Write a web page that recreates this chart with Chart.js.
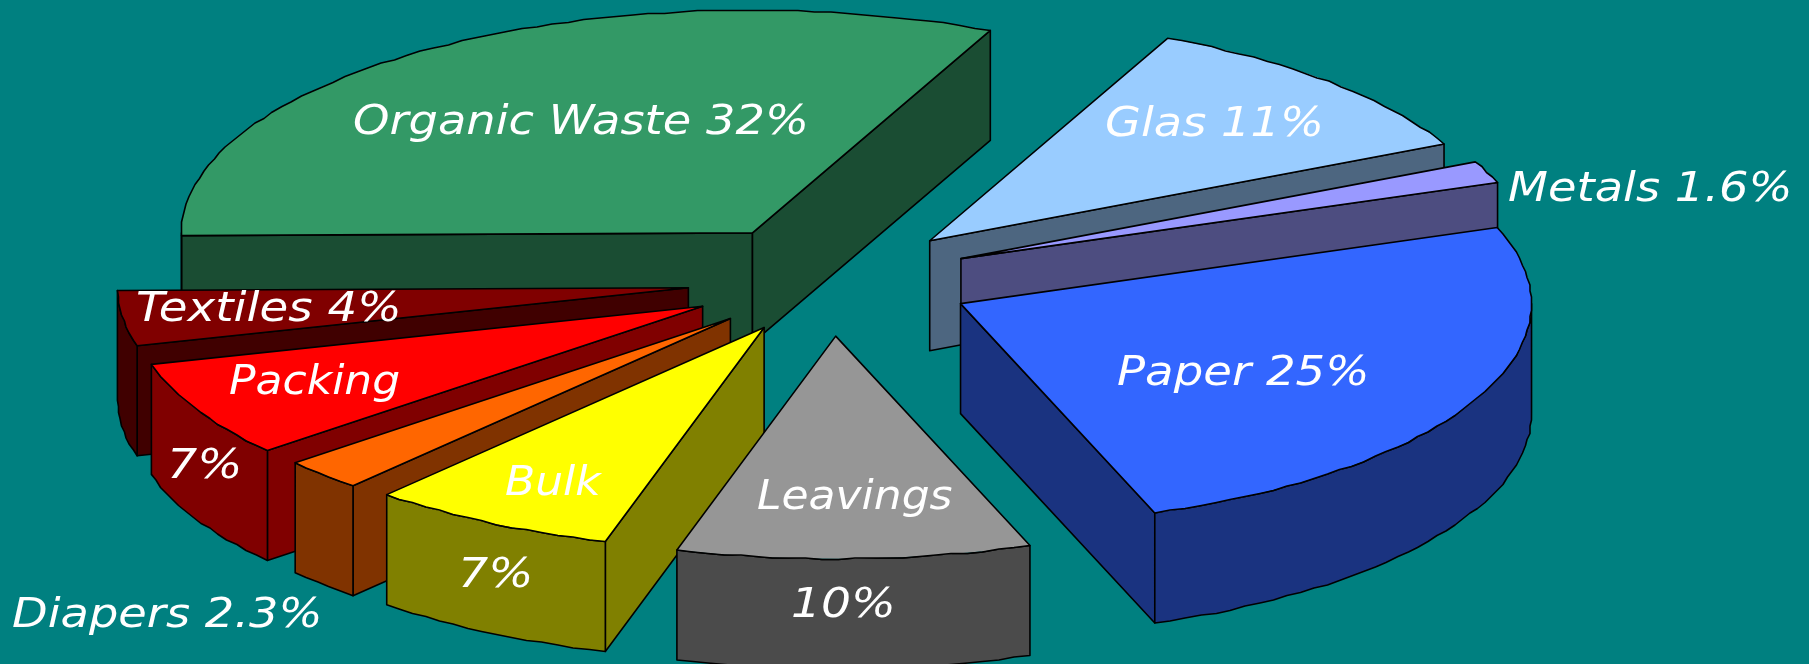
<!DOCTYPE html>
<html>
<head>
<meta charset="utf-8">
<title>Household waste composition</title>
<script src="https://cdn.jsdelivr.net/npm/chart.js@4"></script>
<style>
  html, body { margin: 0; padding: 0; background: #008080; overflow: hidden; }
  canvas { display: block; }
</style>
</head>
<body>
<canvas id="chart" width="1809" height="664"></canvas>
<script>
const categories = ['Organic Waste', 'Glas', 'Metals', 'Paper', 'Leavings', 'Bulk', 'Diapers', 'Packing', 'Textiles'];
const shares = [32, 11, 1.6, 25, 10, 7, 2.3, 7, 4];
const topColors = ['#339966', '#99ccff', '#9999ff', '#3366ff', '#969696', '#ffff00', '#ff6600', '#ff0000', '#800000'];
const sideColors = ['#1a4d33', '#4d6680', '#4d4d80', '#1a3380', '#4b4b4b', '#808000', '#803300', '#800000', '#400000'];
const explodeBy = [144, 141, 141, 143, 144, 139, 141, 145, 144];

const TILT = 0.39;
const DEPTH = 110;
const OUTLINE = '#000';
const RIM_GRID = 1.5;

// text sits where it reads best, so the spots are set by hand: text, x, baseline, width stretch
const captions = [
  ['Organic Waste 32%', 353, 134, 1.13],
  ['Glas 11%', 1105, 136, 1.13],
  ['Metals 1.6%', 1508, 201, 1.13],
  ['Paper 25%', 1117, 385, 1.137],
  ['Leavings', 757, 509, 1.073],
  ['10%', 791, 617, 1.15],
  ['Bulk', 505, 495, 1.073],
  ['7%', 458, 587, 1.16],
  ['Diapers 2.3%', 12, 627, 1.13],
  ['Packing', 229, 394, 1.073],
  ['7%', 167, 478, 1.16],
  ['Textiles 4%', 136, 321, 1.14],
];

// polar position on the flattened pie, moved out along the slice's middle
const projector = (arc, explode) => {
  const { x, y, startAngle, endAngle } = arc.getProps(['x', 'y', 'startAngle', 'endAngle'], true);
  const mid = (startAngle + endAngle) / 2;
  const ox = x + Math.cos(mid) * explode;
  const oy = y + Math.sin(mid) * explode * TILT;
  return (angle, r, drop) => [ox + Math.cos(angle) * r, oy + Math.sin(angle) * r * TILT + drop];
};

const polygon = (ctx, points, fill) => {
  ctx.beginPath();
  points.forEach(([px, py], i) => (i ? ctx.lineTo(px, py) : ctx.moveTo(px, py)));
  ctx.closePath();
  if (fill) {
    ctx.fillStyle = fill;
    ctx.fill();
  }
  ctx.stroke();
};

// rim is a coarse polyline snapped to a small grid, ends kept exact
const rimPoints = (at, from, to, r, drop) => {
  const steps = Math.max(2, Math.ceil((to - from) * 34));
  const pts = [];
  for (let i = 0; i <= steps; i++) {
    const [px, py] = at(from + ((to - from) * i) / steps, r, drop);
    const edge = i === 0 || i === steps;
    pts.push(edge ? [px, py] : [Math.round(px / RIM_GRID) * RIM_GRID, Math.round(py / RIM_GRID) * RIM_GRID]);
  }
  return pts;
};

const pie3d = {
  id: 'pie3d',
  beforeDatasetDraw(chart, args) {
    const { ctx } = chart;
    const arcs = args.meta.data.map((arc, index) => ({ arc, index, at: projector(arc, explodeBy[index]) }));
    arcs.sort((p, q) => p.at(0, 0, 0)[1] - q.at(0, 0, 0)[1]);

    ctx.save();
    ctx.strokeStyle = OUTLINE;
    ctx.lineWidth = 1.6;
    ctx.lineJoin = 'round';

    arcs.forEach(({ arc, index, at }) => {
      const { startAngle: a, endAngle: b, outerRadius: r, x, y } = arc.getProps(
        ['startAngle', 'endAngle', 'outerRadius', 'x', 'y'],
        true
      );
      const side = sideColors[index];
      const wall = (t) => polygon(ctx, [at(t, 0, 0), at(t, r, 0), at(t, r, DEPTH), at(t, 0, DEPTH)], side);

      // only the walls facing the viewer get painted
      if (Math.cos(a) < 0) wall(a);
      if (Math.cos(b) > 0) wall(b);

      // outer wall, wherever the slice covers the lower half of the rim
      for (let turn = 0; turn < 2; turn++) {
        const from = Math.max(a, turn * 2 * Math.PI);
        const to = Math.min(b, turn * 2 * Math.PI + Math.PI);
        if (to > from) {
          polygon(ctx, [...rimPoints(at, from, to, r, 0), ...rimPoints(at, from, to, r, DEPTH).reverse()], side);
        }
      }

      // top face: the library's own arc, squashed and moved out
      const [apexX, apexY] = at(0, 0, 0);
      ctx.save();
      ctx.translate(apexX, apexY);
      ctx.scale(1, TILT);
      ctx.translate(-x, -y);
      arc.draw(ctx);
      ctx.restore();
      polygon(ctx, [at(a, 0, 0), ...rimPoints(at, a, b, r, 0)]);
    });
    ctx.restore();

    return false;
  },
  afterDatasetsDraw(chart) {
    const { ctx } = chart;
    ctx.save();
    ctx.fillStyle = '#fff';
    ctx.font = 'italic 41px "DejaVu Sans"';
    ctx.textAlign = 'left';
    ctx.textBaseline = 'alphabetic';
    captions.forEach(([text, x, y, stretch]) => {
      ctx.save();
      ctx.translate(x, y);
      ctx.scale(stretch, 1);
      ctx.fillText(text, 0, 0);
      ctx.restore();
    });
    ctx.restore();
  },
};

new Chart('chart', {
  type: 'pie',
  data: {
    labels: categories,
    datasets: [
      {
        data: shares,
        backgroundColor: topColors,
        borderWidth: 0,
      },
    ],
  },
  options: {
    responsive: false,
    animation: false,
    radius: 571,
    rotation: 269.3,
    layout: { padding: { right: 147, bottom: 104 } },
    plugins: {
      legend: { display: false },
      tooltip: { enabled: false },
    },
  },
  plugins: [pie3d],
});
</script>
</body>
</html>
